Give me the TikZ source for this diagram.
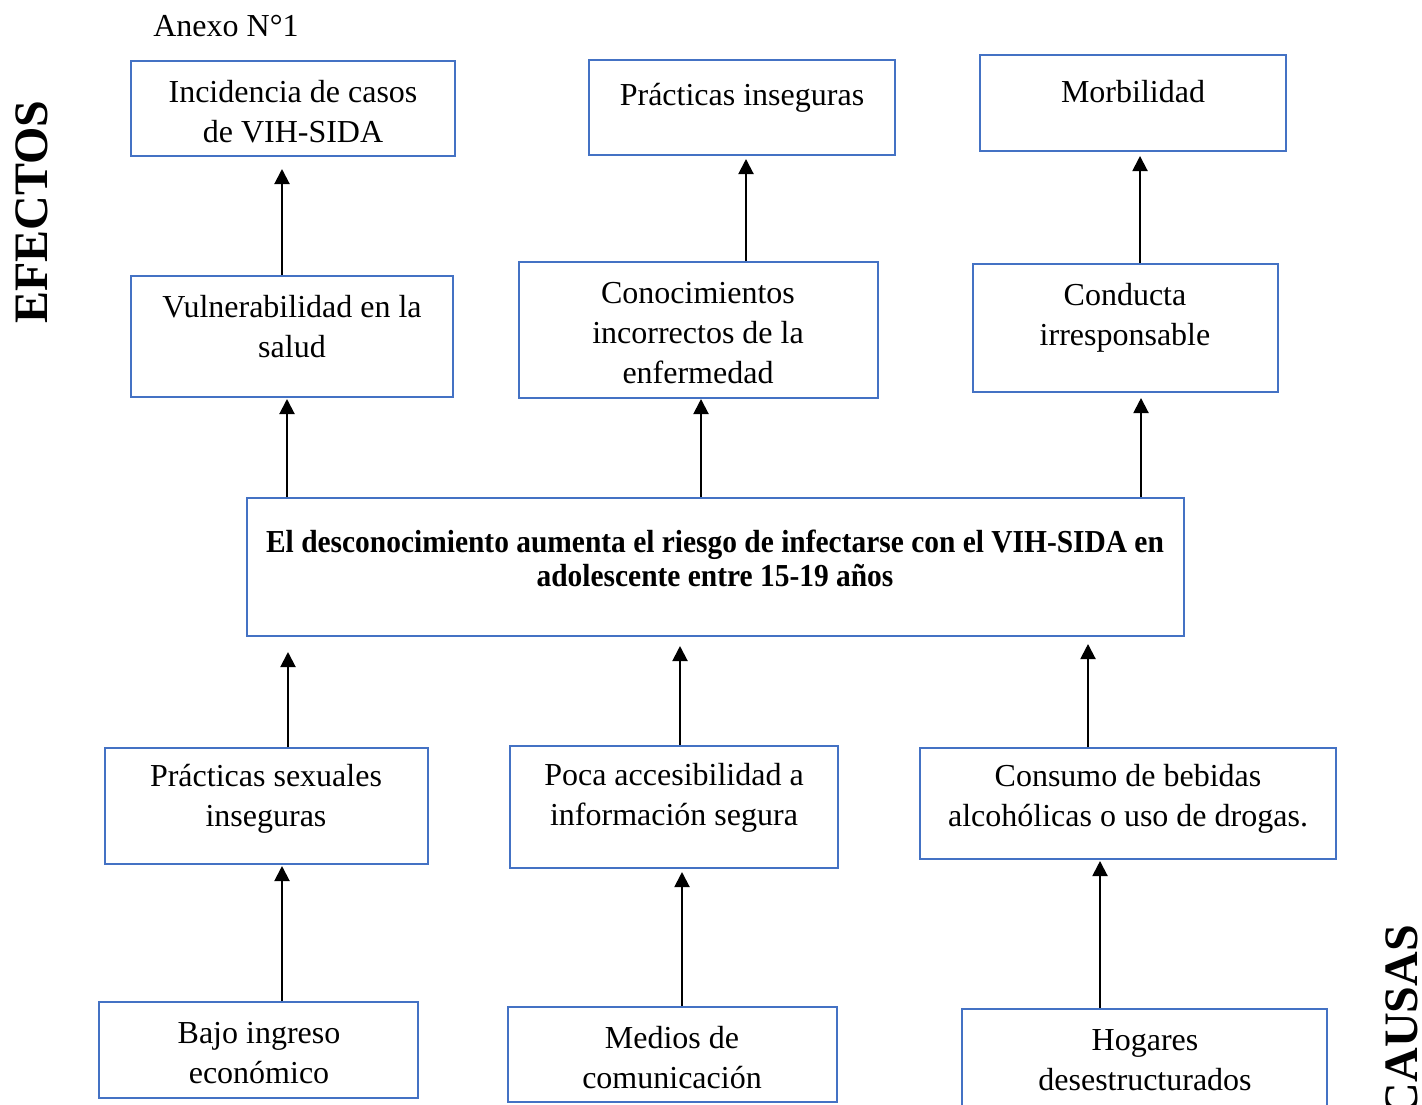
\documentclass[tikz,border=0pt]{standalone}
\usepackage{fontspec}
\setmainfont{Liberation Serif}
\newfontfamily\condfont[FakeStretch=0.92]{Liberation Serif}
\usetikzlibrary{arrows.meta,fit}
\definecolor{boxblue}{RGB}{68,114,196}

\begin{document}
\begin{tikzpicture}[x=0.5pt,y=-0.5pt,
		box/.style={draw=boxblue, line width=1pt, inner sep=0pt},
		txt/.style={align=center, inner sep=0pt, font=\fontsize{16}{20}\selectfont},
		side/.style={rotate=90, inner sep=0pt, font=\fontsize{24}{24}\selectfont\bfseries},
		arr/.style={line width=1pt, -{Triangle[length=7.5pt,width=7.5pt]}}]
			\useasboundingbox (0,0) rectangle (1422,1104);
			
			\node[txt] (anexo) at (226,26) {Anexo N°1};
			\node[side] (efectos) at (32,212) {EFECTOS};
			\node[side] (causas) at (1402,1021) {CAUSAS};
			
			% efectos
			\node[box, fit={(131,61) (455,156)}] (inc) {};
			\node[txt] (incT) at (293,112) {Incidencia de casos\\de VIH-SIDA};
			\node[box, fit={(589,60) (895,155)}] (pins) {};
			\node[txt] (pinsT) at (742,98) {Prácticas inseguras};
			\node[box, fit={(980,55) (1286,151)}] (morb) {};
			\node[txt] (morbT) at (1133,92) {Morbilidad};
			
			\node[box, fit={(131,276) (453,397)}] (vul) {};
			\node[txt] (vulT) at (292,327) {Vulnerabilidad en la\\salud};
			\node[box, fit={(519,262) (878,398)}] (con) {};
			\node[txt] (conT) at (698,333) {Conocimientos\\incorrectos de la\\enfermedad};
			\node[box, fit={(973,264) (1278,392)}] (cond) {};
			\node[txt] (condT) at (1125,318) {Conducta\\irresponsable};
			
			% problema
			\node[box, fit={(247,498) (1184,636)}] (cen) {};
			\node[txt, font=\fontsize{16}{17}\condfont\bfseries] (cenT) at (715,558)
				{El desconocimiento aumenta el riesgo de infectarse con el VIH-SIDA en\\adolescente entre 15-19 años};
			
			% causas
			\node[box, fit={(105,748) (428,864)}] (psex) {};
			\node[txt] (psexT) at (266,799) {Prácticas sexuales\\inseguras};
			\node[box, fit={(510,746) (838,868)}] (poca) {};
			\node[txt] (pocaT) at (674,798) {Poca accesibilidad a\\información segura};
			\node[box, fit={(920,748) (1336,859)}] (cons) {};
			\node[txt] (consT) at (1128,799) {Consumo de bebidas\\alcohólicas o uso de drogas.};
			
			\node[box, fit={(99,1002) (418,1098)}] (bajo) {};
			\node[txt] (bajoT) at (259,1053) {Bajo ingreso\\económico};
			\node[box, fit={(508,1007) (837,1102)}] (med) {};
			\node[txt] (medT) at (672,1058) {Medios de\\comunicación};
			\node[box, fit={(962,1009) (1327,1112)}] (hog) {};
			\node[txt] (hogT) at (1145,1060) {Hogares\\desestructurados};
			
			\foreach \x/\a/\b/\g in {282/vul/inc/6, 746/con/pins/1.5, 1140/cond/morb/2,
				287/cen/vul/0.5, 701/cen/con/0, 1141/cen/cond/2.5,
				288/psex/cen/7.5, 680/poca/cen/4.5, 1088/cons/cen/3.5,
				282/bajo/psex/0.5, 682/med/poca/1.5, 1100/hog/cons/0.5}
			\draw[arr, shorten >=\g pt] (\a.north -| \x,0) -- (\b.south -| \x,0);
		\end{tikzpicture}
\end{document}
